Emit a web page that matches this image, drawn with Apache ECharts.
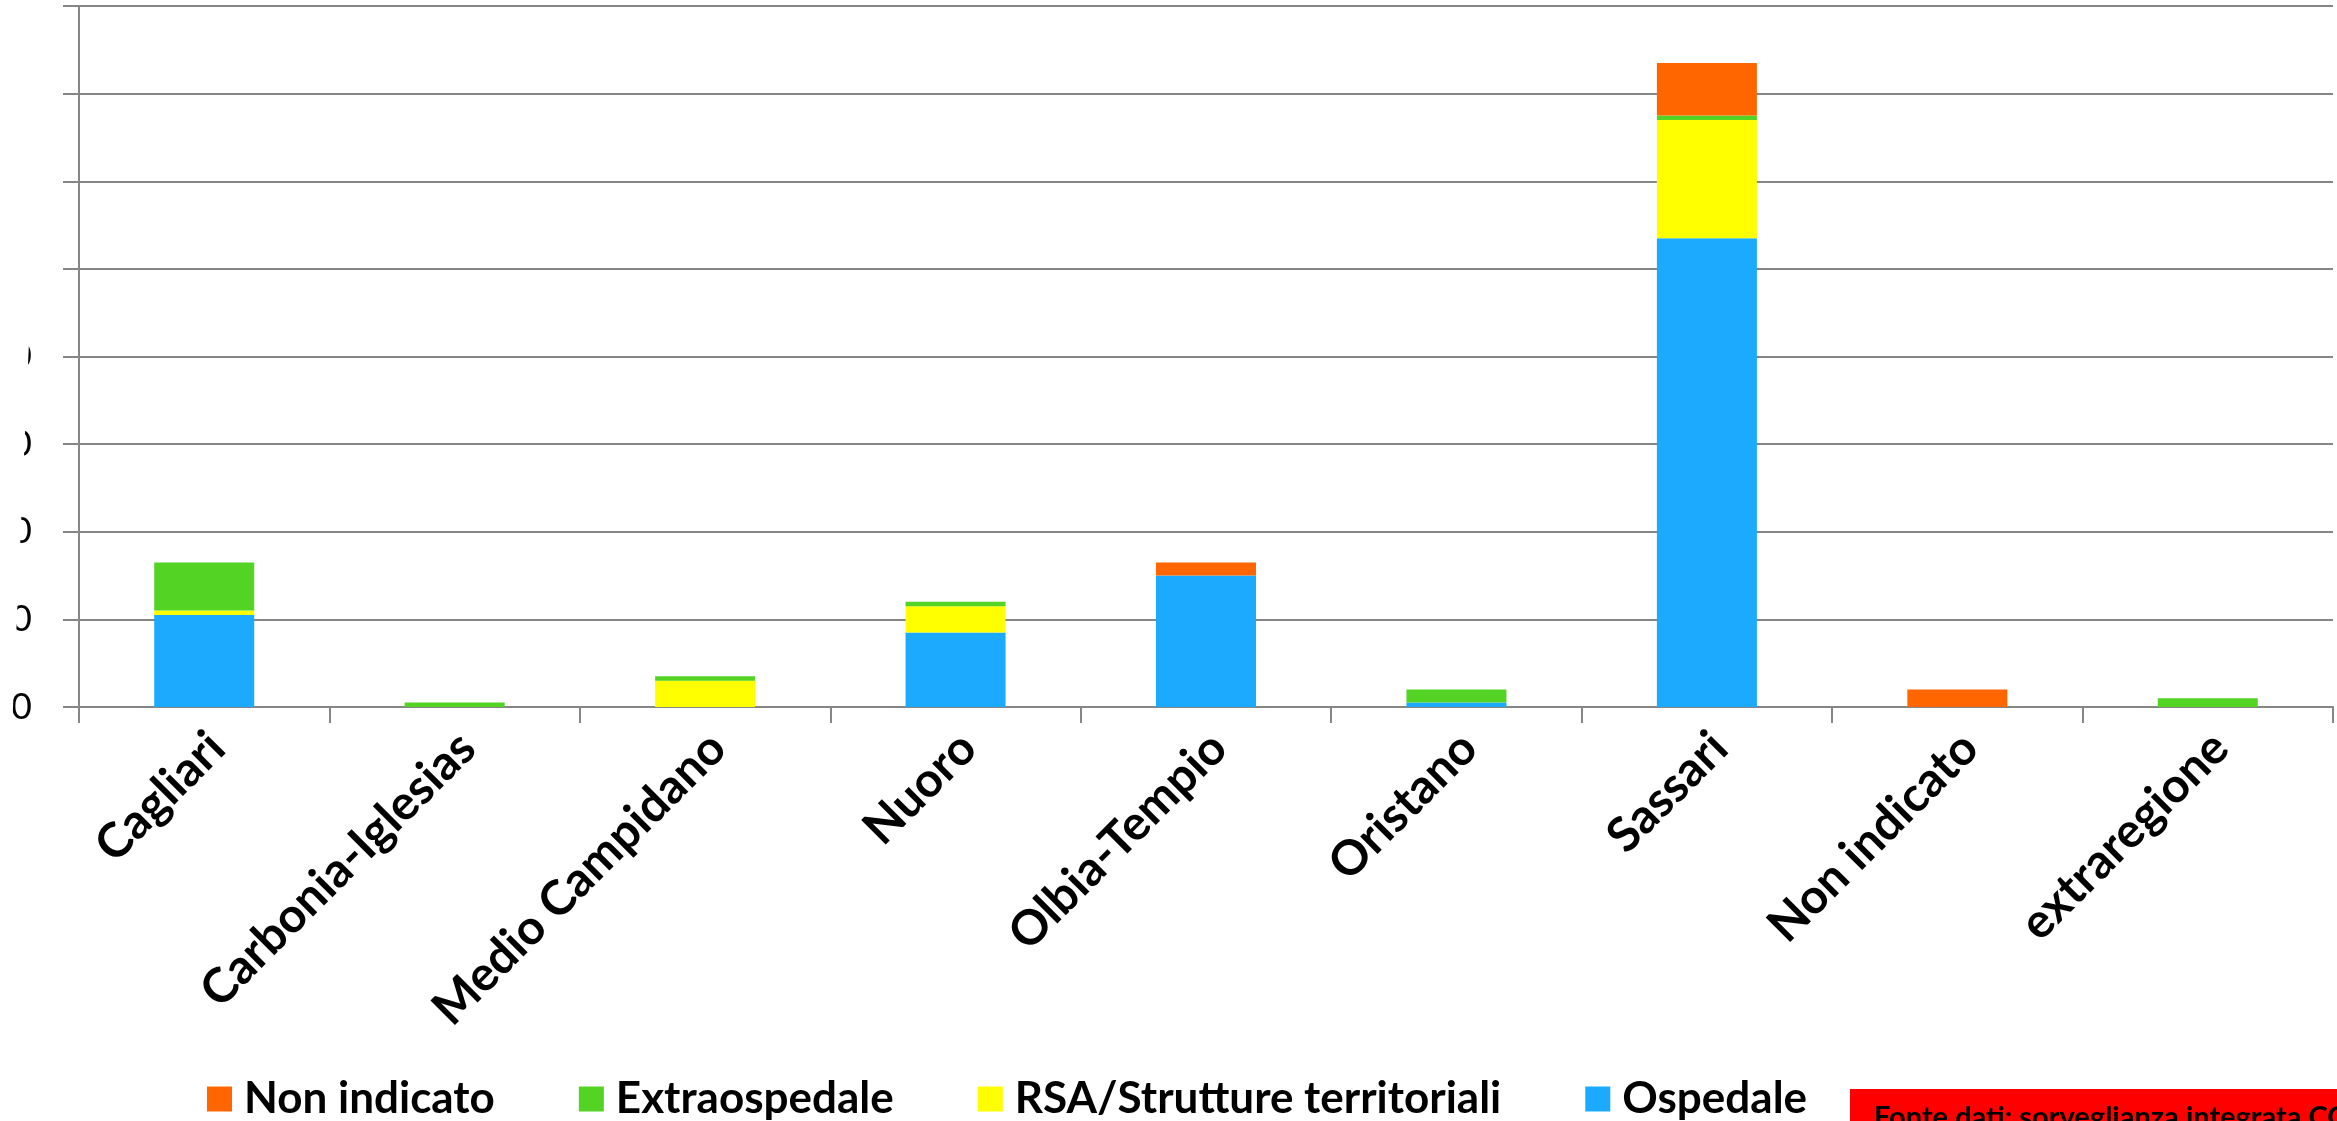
<!DOCTYPE html>
<html>
<head>
<meta charset="utf-8">
<script src="https://cdn.jsdelivr.net/npm/echarts@6/dist/echarts.min.js"></script>
<style>
	html, body { margin: 0; padding: 0; background: #fff; }
	#resultChart { width: 2337px; height: 1121px; }
</style>
</head>
<body>
<div id="resultChart"></div>
<script>
//province
var categories = ['Cagliari', 'Carbonia-Iglesias', 'Medio Campidano', 'Nuoro', 'Olbia-Tempio', 'Oristano', 'Sassari', 'Non indicato', 'extraregione'];
//luogo del decesso
var ospedale = [21, 0, 0, 17, 30, 1, 107, 0, 0];
var rsa = [1, 0, 6, 6, 0, 0, 27, 0, 0];
var extraospedale = [11, 1, 1, 1, 0, 3, 1, 0, 2];
var nonIndicato = [0, 0, 0, 0, 3, 0, 12, 4, 0];
var seriesNames = ['Ospedale', 'RSA/Strutture territoriali', 'Extraospedale', 'Non indicato'];
var legendNames = ['Non indicato', 'Extraospedale', 'RSA/Strutture territoriali', 'Ospedale'];
var yTicks = [0, 160, 20];

function getEchartsResult() {
	var myChart = echarts.init(document.getElementById('resultChart'));
	var gray = '#868686';
	var values = [ospedale, rsa, extraospedale, nonIndicato];
	var colors = ['#1CAAFF', '#FFFF00', '#53D323', '#FF6600'];
	var series = [];
	for (var i = 0; i < values.length; i++) {
		series.push({
			name : seriesNames[i],
			type : 'bar',
			stack : 'tot',
			barWidth : 100,
			data : values[i],
			itemStyle : { color : colors[i] }
		});
	}
	var option = {
		animation : false,
		backgroundColor : '#ffffff',
		grid : {
			left : 79,
			right : 4,
			top : 6,
			bottom : 414,
			containLabel : false,
			outerBoundsMode : 'none'
		},
		legend : {
			data : legendNames,
			left : 202,
			top : 1072,
			itemWidth : 25,
			itemHeight : 25,
			itemGap : 84,
			icon : 'rect',
			textStyle : {
				fontFamily : 'Lato',
				fontWeight : 'bold',
				fontSize : 44,
				color : '#000',
				padding : [0, 0, 0, 7]
			}
		},
		xAxis : {
			type : 'category',
			data : categories,
			axisLine : { lineStyle : { color : gray, width : 2 } },
			axisTick : { show : true, length : 16, lineStyle : { color : gray, width : 2 } },
			axisLabel : {
				interval : 0,
				rotate : 45,
				margin : 46,
				padding : [0, -18, 0, 0],
				fontFamily : 'Lato',
				fontWeight : 'bold',
				fontSize : 48,
				color : '#000'
			}
		},
		yAxis : {
			type : 'value',
			min : yTicks[0],
			max : yTicks[1],
			interval : yTicks[2],
			axisLine : { show : true, lineStyle : { color : gray, width : 2 } },
			axisTick : { show : true, length : 16, lineStyle : { color : gray, width : 2 } },
			splitLine : { lineStyle : { color : gray, width : 2 } },
			axisLabel : {
				margin : 47,
				fontFamily : 'Lato',
				fontSize : 36,
				color : '#000'
			}
		},
		series : series,
		graphic : [
			//bordo tagliato a sinistra
			{
				type : 'polygon',
				z : 100,
				shape : { points : [[0, 0], [44, 0], [12, 730], [0, 730]] },
				style : { fill : '#ffffff' }
			},
			//fonte dati
			{
				type : 'rect',
				z : 100,
				shape : { x : 1850, y : 1089, width : 500, height : 40 },
				style : { fill : '#FF0000' }
			},
			{
				type : 'text',
				z : 101,
				x : 1874,
				y : 1103,
				style : {
					text : 'Fonte dati: sorveglianza integrata COVID-19',
					fontFamily : 'Lato',
					fontWeight : 'bold',
					fontSize : 29,
					fill : '#000'
				}
			}
		]
	};
	myChart.setOption(option);
}
getEchartsResult();
</script>
</body>
</html>
